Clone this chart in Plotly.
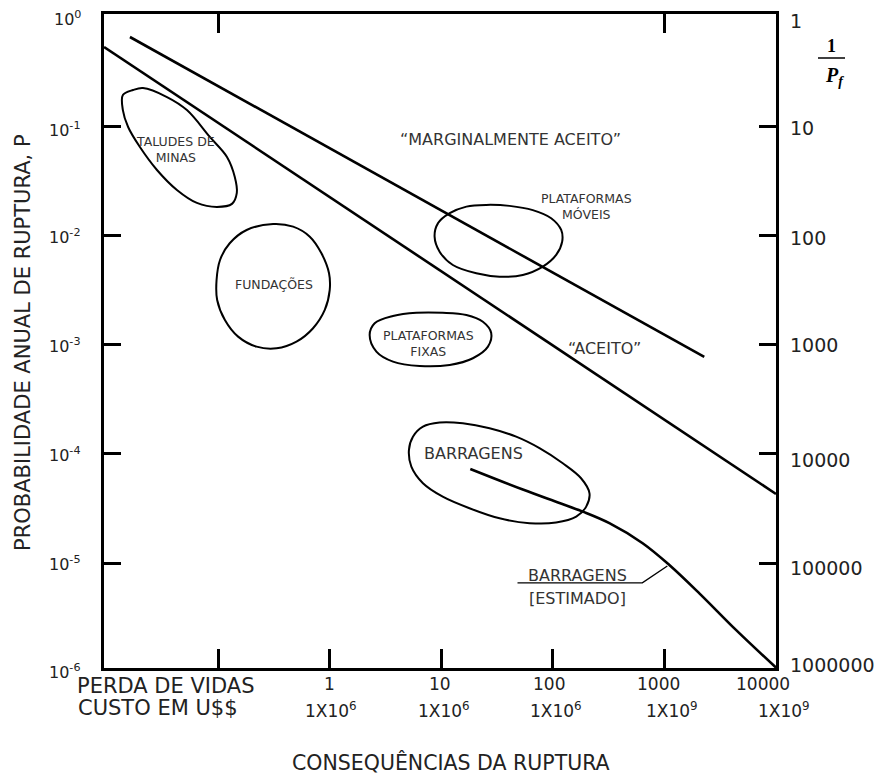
import plotly.graph_objects as go

# ---------------------------------------------------------------------------
# Data: consequence of failure (lives lost) vs annual probability of failure
# ---------------------------------------------------------------------------

# Boundary of the "marginally accepted" zone
marginal_x = [0.0162, 2275]
marginal_y = [0.664, 7.75e-4]

# Boundary of the "accepted" zone
aceito_x = [0.0095, 10000]
aceito_y = [0.538, 4.3e-5]

# Estimated curve for dams
barragens_est_x = [18.2, 53.8, 114.6, 185.3, 321, 638, 1107, 2056, 4375, 10000]
barragens_est_y = [7.29e-5, 4.72e-5, 3.55e-5, 2.96e-5, 2.32e-5, 1.52e-5,
                   9.6e-6, 5.28e-6, 2.44e-6, 1.1e-6]

# Leader line from the "BARRAGENS [ESTIMADO]" label to the curve
leader_x = [48.2, 634, 1062]
leader_y = [6.58e-6, 6.58e-6, 9.4e-6]

# Closed outlines of each structure family
taludes_x = [0.0140, 0.0173, 0.0212, 0.0348, 0.0525, 0.0843, 0.120, 0.141, 0.147,
             0.133, 0.0974, 0.0645, 0.0427, 0.0283, 0.0199, 0.0156, 0.0140, 0.0140]
taludes_y = [0.195, 0.217, 0.226, 0.187, 0.142, 0.0805, 0.0528, 0.0346, 0.0247,
             0.0196, 0.0184, 0.0200, 0.0263, 0.0401, 0.0651, 0.0994, 0.142, 0.195]

fundacoes_x = [0.311, 0.470, 0.663, 0.843, 0.986, 1.00, 0.903, 0.709, 0.504,
               0.334, 0.221, 0.151, 0.115, 0.098, 0.0968, 0.104, 0.127, 0.180, 0.311]
fundacoes_y = [0.01283, 0.01212, 0.00981, 0.00691, 0.00453, 0.00318, 0.00209,
               0.00142, 0.00107, 0.00093, 0.000963, 0.00119, 0.00169, 0.00258,
               0.00393, 0.0060, 0.00854, 0.0113, 0.01283]

fixas_x = [2.28, 2.53, 3.69, 5.98, 10.3, 16.8, 23.6, 28.0, 26.2, 19.2, 11.9,
           6.40, 3.69, 2.62, 2.28]
fixas_y = [0.00123, 0.00158, 0.00184, 0.00197, 0.00197, 0.00188, 0.00163,
           0.00129, 0.000963, 0.000754, 0.000655, 0.00064, 0.000702, 0.000867,
           0.00123]

moveis_x = [8.71, 9.33, 11.9, 16.8, 25.3, 40.9, 66.1, 96.6, 118.8, 121.2, 107.1,
            81.3, 53.8, 33.3, 20.6, 12.7, 9.66, 8.71]
moveis_y = [0.00982, 0.0130, 0.0161, 0.0185, 0.0192, 0.0188, 0.0172, 0.0145,
            0.0113, 0.00883, 0.00667, 0.00521, 0.00437, 0.00422, 0.00453,
            0.0054, 0.00715, 0.00982]

barragens_x = [5.57, 6.85, 9.66, 15.6, 27.1, 46.9, 75.9, 122.7, 179, 213, 199,
               162, 107, 61.8, 33.3, 17.9, 10.3, 6.85, 5.39, 5.13, 5.57]
barragens_y = [1.44e-4, 1.78e-4, 1.94e-4, 1.91e-4, 1.72e-4, 1.44e-4, 1.13e-4,
               8.22e-5, 5.99e-5, 4.36e-5, 3.29e-5, 2.66e-5, 2.35e-5, 2.32e-5,
               2.57e-5, 3.18e-5, 4.06e-5, 5.39e-5, 7.65e-5, 1.09e-4, 1.44e-4]

# Tick labels
prob_labels = ["10<sup>0</sup>", "10<sup>-1</sup>", "10<sup>-2</sup>", "10<sup>-3</sup>",
               "10<sup>-4</sup>", "10<sup>-5</sup>", "10<sup>-6</sup>"]
inv_prob_labels = ["1", "10", "100", "1000", "10000", "100000", "1000000"]
vidas_labels = ["1", "10", "100", "1000", "10000"]
custo_labels = ["1X10<sup>6</sup>", "1X10<sup>6</sup>", "1X10<sup>6</sup>",
                "1X10<sup>9</sup>", "1X10<sup>9</sup>"]

# ---------------------------------------------------------------------------
# Layout geometry
# ---------------------------------------------------------------------------
W, H = 881, 776
ML, MR, MT, MB = 104, 105, 14, 108
PW, PH = W - ML - MR, H - MT - MB


def paper(px, py):
    """Canvas pixel position -> paper fraction."""
    return (px - ML) / PW, 1 - (py - MT) / PH


FONT = "DejaVu Sans"
TXT = "#222222"
LBL = "#333333"

fig = go.Figure()


def add_line(x, y, width=2.4, shape="linear", axis="x"):
    fig.add_trace(go.Scatter(x=x, y=y, mode="lines", xaxis=axis,
                             line=dict(color="black", width=width, shape=shape,
                                       smoothing=1.0),
                             hoverinfo="skip", showlegend=False))


add_line(marginal_x, marginal_y, 2.6)
add_line(aceito_x, aceito_y, 2.6)
add_line(barragens_est_x, barragens_est_y, 2.6, "spline")
add_line(leader_x, leader_y, 1.4)
for ox, oy in [(taludes_x, taludes_y), (fundacoes_x, fundacoes_y),
               (fixas_x, fixas_y), (moveis_x, moveis_y),
               (barragens_x, barragens_y)]:
    add_line(ox, oy, 2.0, "spline")

# empty trace so the top tick axis is drawn
fig.add_trace(go.Scatter(x=[], y=[], xaxis="x2", showlegend=False))

annotations = []


def label(text, px, py, size, xanchor="center", color=LBL, family=FONT, **kw):
    x, y = paper(px, py)
    annotations.append(dict(text=text, x=x, y=y, xref="paper", yref="paper",
                            xanchor=xanchor, yanchor="middle", showarrow=False,
                            font=dict(family=family, size=size, color=color), **kw))


# Left axis labels
for i, t in enumerate(prob_labels):
    label(t, 83, [18, 129, 237, 345, 455, 563, 671][i], 16, "right", TXT)
# Right axis labels (1 / Pf)
for i, t in enumerate(inv_prob_labels):
    label(t, 788, [21, 128, 238, 345, 460, 568, 665][i], 19, "left", TXT)
# Bottom labels
for i, t in enumerate(vidas_labels):
    label(t, [329, 440, 549, 658, 763][i], 684, 17, "center", TXT)
for i, t in enumerate(custo_labels):
    label(t, [331, 444, 556, 672, 784][i], 710, 17, "center", TXT)
label("PERDA DE VIDAS", 75, 686, 21, "left", TXT)
label("CUSTO EM U$$", 76, 708, 21, "left", TXT)
label("CONSEQUÊNCIAS DA RUPTURA", 451, 762, 20.5, "center", TXT)
label("PROBABILIDADE ANUAL DE RUPTURA, P", 23, 343, 21, "center", TXT, textangle=-90)

# 1 / Pf heading
label("<b>1</b>", 831, 46, 18, "center", "black", "Liberation Serif")
label("<b><i>P</i></b><sub><b><i>f</i></b></sub>", 834, 76, 20, "center", "black",
      "Liberation Serif")

# Region labels
label("“MARGINALMENTE ACEITO”", 510, 139, 16)
label("“ACEITO”", 604, 348, 16)
label("TALUDES DE<br>MINAS", 175, 150, 12.5)
label("FUNDAÇÕES", 274, 285, 12.5)
label("PLATAFORMAS<br>FIXAS", 428, 343, 12.5)
label("PLATAFORMAS<br>MÓVEIS", 586, 206, 12.5)
label("BARRAGENS", 473, 453, 16)
label("BARRAGENS", 577, 575, 16)
label("[ESTIMADO]", 577, 598, 16)

bx0, by0 = paper(818, 58)
bx1, _ = paper(845, 58)

fig.update_layout(
    width=W, height=H,
    margin=dict(l=ML, r=MR, t=MT, b=MB),
    paper_bgcolor="white", plot_bgcolor="white",
    showlegend=False,
    annotations=annotations,
    shapes=[dict(type="line", xref="paper", yref="paper", x0=bx0, x1=bx1,
                 y0=by0, y1=by0, line=dict(color="black", width=1.5))],
    xaxis=dict(type="log", range=[-2.023, 4.0], showline=True, linewidth=3,
               linecolor="black", mirror=True, ticks="inside",
               tickvals=[0.1, 1, 10, 100, 1000], ticklen=19, tickwidth=3,
               tickcolor="black", showticklabels=False, showgrid=False,
               zeroline=False),
    xaxis2=dict(type="log", range=[-2.023, 4.0], overlaying="x", side="top",
                anchor="y", showline=False, ticks="inside", tickvals=[0.1, 1000],
                ticklen=19, tickwidth=3, tickcolor="black",
                showticklabels=False, showgrid=False, zeroline=False),
    yaxis=dict(type="log", range=[-5.962, 0.033], showline=True, linewidth=3,
               linecolor="black", mirror="ticks", ticks="inside",
               tickvals=[1e-1, 1e-2, 1e-3, 1e-4, 1e-5], ticklen=17, tickwidth=3,
               tickcolor="black", showticklabels=False, showgrid=False,
               zeroline=False),
)

fig.write_html("out.html")
